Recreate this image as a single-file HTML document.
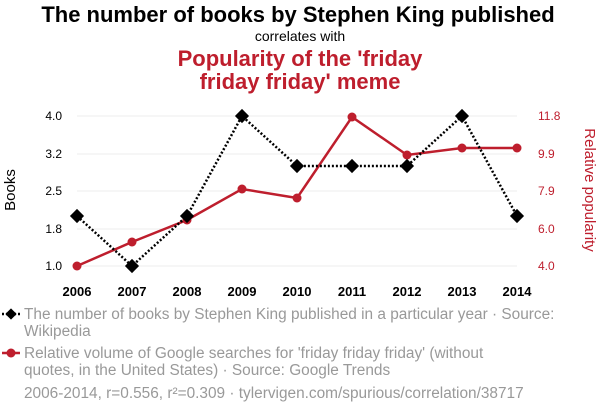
<!DOCTYPE html>
<html><head><style>
body{margin:0;width:600px;height:414px;background:#fff;overflow:hidden;font-family:"Liberation Sans",sans-serif}
</style></head><body>
<svg width="600" height="414" xmlns="http://www.w3.org/2000/svg" font-family="Liberation Sans, sans-serif">
<text x="298" y="22" text-anchor="middle" font-size="22" font-weight="bold" fill="#000">The number of books by Stephen King published</text>
<text x="300" y="41" text-anchor="middle" font-size="14" fill="#000">correlates with</text>
<text x="300" y="66" text-anchor="middle" font-size="22" font-weight="bold" fill="#be1e2d">Popularity of the 'friday</text>
<text x="300" y="89" text-anchor="middle" font-size="22" font-weight="bold" fill="#be1e2d">friday friday' meme</text>
<g stroke="#eee" stroke-width="1">
<line x1="77" x2="517" y1="116" y2="116"/><line x1="77" x2="517" y1="154" y2="154"/><line x1="77" x2="517" y1="191" y2="191"/><line x1="77" x2="517" y1="229" y2="229"/><line x1="77" x2="517" y1="266" y2="266"/>
</g>
<g font-size="12" fill="#000" text-anchor="end">
<text x="62" y="120">4.0</text><text x="62" y="158">3.2</text><text x="62" y="195">2.5</text><text x="62" y="233">1.8</text><text x="62" y="270">1.0</text>
</g>
<g font-size="12" fill="#be1e2d" text-anchor="start">
<text x="538" y="120">11.8</text><text x="538" y="158">9.9</text><text x="538" y="195">7.9</text><text x="538" y="233">6.0</text><text x="538" y="270">4.0</text>
</g>
<g font-size="13" font-weight="bold" fill="#000" text-anchor="middle">
<text x="77" y="296">2006</text><text x="132" y="296">2007</text><text x="187" y="296">2008</text><text x="242" y="296">2009</text><text x="297" y="296">2010</text><text x="352" y="296">2011</text><text x="407" y="296">2012</text><text x="462" y="296">2013</text><text x="517" y="296">2014</text>
</g>
<text transform="translate(15,190) rotate(-90)" text-anchor="middle" font-size="15" fill="#000">Books</text>
<text transform="translate(585,190) rotate(90)" text-anchor="middle" font-size="15" fill="#be1e2d">Relative popularity</text>
<polyline fill="none" stroke="#be1e2d" stroke-width="2.5" points="77,266 132,242 187,220 242,189 297,198 352,117 407,155 462,148 517,148"/>
<g fill="#be1e2d"><circle cx="77" cy="266" r="4.5"/><circle cx="132" cy="242" r="4.5"/><circle cx="187" cy="220" r="4.5"/><circle cx="242" cy="189" r="4.5"/><circle cx="297" cy="198" r="4.5"/><circle cx="352" cy="117" r="4.5"/><circle cx="407" cy="155" r="4.5"/><circle cx="462" cy="148" r="4.5"/><circle cx="517" cy="148" r="4.5"/></g>
<polyline fill="none" stroke="#000" stroke-width="2.5" stroke-dasharray="2,2" points="77,216 132,266 187,216 242,116 297,166 352,166 407,166 462,116 517,216"/>
<g fill="#000">
<rect x="72" y="211" width="10" height="10" transform="rotate(45 77 216)"/>
<rect x="127" y="261" width="10" height="10" transform="rotate(45 132 266)"/>
<rect x="182" y="211" width="10" height="10" transform="rotate(45 187 216)"/>
<rect x="237" y="111" width="10" height="10" transform="rotate(45 242 116)"/>
<rect x="292" y="161" width="10" height="10" transform="rotate(45 297 166)"/>
<rect x="347" y="161" width="10" height="10" transform="rotate(45 352 166)"/>
<rect x="402" y="161" width="10" height="10" transform="rotate(45 407 166)"/>
<rect x="457" y="111" width="10" height="10" transform="rotate(45 462 116)"/>
<rect x="512" y="211" width="10" height="10" transform="rotate(45 517 216)"/>
</g>
<line x1="2" x2="20" y1="314" y2="314" stroke="#000" stroke-width="2.5" stroke-dasharray="2,2"/>
<rect x="7" y="310" width="8" height="8" fill="#000" transform="rotate(45 11 314)"/>
<line x1="2" x2="20" y1="353" y2="353" stroke="#be1e2d" stroke-width="2.5"/>
<circle cx="11" cy="353" r="4.5" fill="#be1e2d"/>
<g font-size="15.4" fill="#999">
<text x="24" y="319">The number of books by Stephen King published in a particular year · Source:</text>
<text x="24" y="336">Wikipedia</text>
<text x="24" y="358">Relative volume of Google searches for 'friday friday friday' (without</text>
<text x="24" y="375">quotes, in the United States) · Source: Google Trends</text>
<text x="24" y="398">2006-2014, r=0.556, r²=0.309 · tylervigen.com/spurious/correlation/38717</text>
</g>
</svg>
</body></html>
